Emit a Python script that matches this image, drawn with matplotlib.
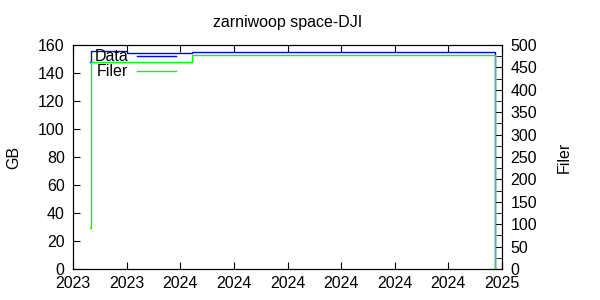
import datetime as dt
import matplotlib
matplotlib.use("Agg")
import matplotlib.pyplot as plt
import matplotlib.dates as mdates
from matplotlib.ticker import MultipleLocator

plt.rcParams['font.family'] = ['Liberation Sans', 'DejaVu Sans']
plt.rcParams['font.size'] = 11.5

# dane
daty = [dt.datetime(2023, 11, 3), dt.datetime(2023, 11, 4), dt.datetime(2023, 12, 14),
        dt.datetime(2024, 2, 25), dt.datetime(2025, 1, 29)]
dane_gb = [148, 156, 154, 155, 0]
filer = [91, 463, 463, 478, 0]

x_min = dt.datetime(2023, 10, 15)
x_max = dt.datetime(2025, 2, 6)
krok_dni = 60

fig = plt.figure(figsize=(6, 3), dpi=100)
ax = fig.add_axes([73 / 600, 31 / 300, 429 / 600, 224 / 300])
ax2 = ax.twinx()

l1, = ax.step(daty, dane_gb, where='post', color='#0000ff', lw=1, label='Data')
l2, = ax2.step(daty, filer, where='post', color='#00ff00', lw=1, label='Filer')

ax.set_xlim(x_min, x_max)
ax.set_ylim(0, 160)
ax2.set_ylim(0, 500)

tiki = [x_min + dt.timedelta(days=krok_dni * i) for i in range(9)]
ax.set_xticks(tiki)
ax.xaxis.set_major_formatter(mdates.DateFormatter('%Y'))
ax.yaxis.set_major_locator(MultipleLocator(20))
ax2.yaxis.set_major_locator(MultipleLocator(50))
ax2.yaxis.set_minor_locator(MultipleLocator(25))

ax.tick_params(axis='x', direction='in', top=True, length=5, pad=5)
ax.tick_params(axis='y', direction='in', length=5, pad=6)
ax2.tick_params(axis='y', which='major', direction='in', length=5, pad=6)
ax2.tick_params(axis='y', which='minor', direction='in', length=4)

ax.set_title('zarniwoop space-DJI', fontsize=11.5, pad=13)
ax.set_ylabel('GB', labelpad=12)
ax2.set_ylabel('Filer', labelpad=14)

ax.legend([l1, l2], ['Data', 'Filer'], loc='upper left', frameon=False,
          markerfirst=False, handlelength=2.45, handletextpad=0.55,
          borderaxespad=0.0, labelspacing=0.0, bbox_to_anchor=(0.035, 1.01))

fig.savefig('out.png', dpi=100)
